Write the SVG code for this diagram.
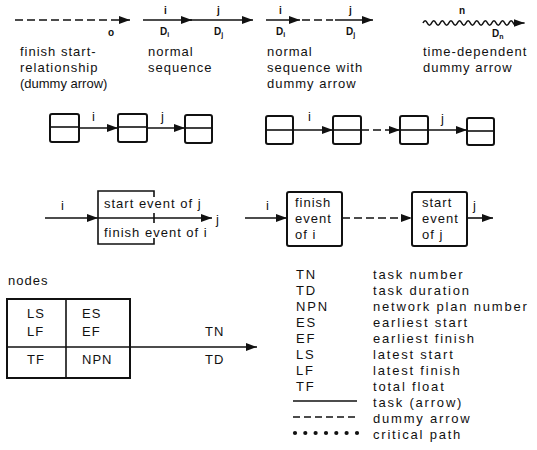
<svg xmlns="http://www.w3.org/2000/svg" width="537" height="450" viewBox="0 0 537 450">
<defs>
<style>
text{font-family:"Liberation Sans",Arial,sans-serif;fill:#111}
.t{font-size:13px;letter-spacing:1px}
.lg{font-size:13px;letter-spacing:1.8px}
.s{font-size:10px;font-weight:bold}
.sub{font-size:7px;font-weight:bold}
.ln{stroke:#111;stroke-width:1.6;fill:none}
.dash{stroke:#111;stroke-width:1.6;fill:none;stroke-dasharray:8 4}
.box{stroke:#111;stroke-width:2;fill:#fff}
.dot{fill:#111}
</style>
<marker id="ah" viewBox="0 0 11 8" refX="11" refY="4" markerWidth="11" markerHeight="8" markerUnits="userSpaceOnUse" orient="auto">
<path d="M0,0 L11,4 L0,8 Z" fill="#111"/>
</marker>
</defs>
<rect width="537" height="450" fill="#fff"/>

<g id="connectors">
<line class="dash" x1="15" y1="20" x2="130" y2="20" marker-end="url(#ah)"/>
<line class="ln" x1="143" y1="20" x2="192" y2="20" marker-end="url(#ah)"/>
<line class="ln" x1="190" y1="20" x2="253" y2="20" marker-end="url(#ah)"/>
<line class="ln" x1="266" y1="20" x2="300" y2="20" marker-end="url(#ah)"/>
<line class="dash" x1="302" y1="20" x2="333" y2="20"/>
<line class="ln" x1="335" y1="20" x2="373" y2="20" marker-end="url(#ah)"/>
<path class="ln" d="M423,23 q2.15,-4.5 4.3,0 t4.3,0 t4.3,0 t4.3,0 t4.3,0 t4.3,0 t4.3,0 t4.3,0 t4.3,0 t4.3,0 t4.3,0 t4.3,0 t4.3,0 t4.3,0 t4.3,0 t4.3,0 t4.3,0 t4.3,0 t4.3,0 t4.3,0 t4.3,0 t4.3,0 l7,0" marker-end="url(#ah)"/>

<line class="ln" x1="79" y1="128" x2="118" y2="128" marker-end="url(#ah)"/>
<line class="ln" x1="147" y1="128" x2="185" y2="128" marker-end="url(#ah)"/>
<line class="ln" x1="293" y1="130" x2="333" y2="130" marker-end="url(#ah)"/>
<line class="dash" x1="361" y1="130" x2="400" y2="130" marker-end="url(#ah)"/>
<line class="ln" x1="428" y1="130" x2="467" y2="130" marker-end="url(#ah)"/>

<line class="ln" x1="45" y1="218" x2="98" y2="218" marker-end="url(#ah)"/>
<line class="ln" x1="98" y1="218" x2="212" y2="218" marker-end="url(#ah)"/>
<line class="ln" x1="245" y1="218" x2="287" y2="218" marker-end="url(#ah)"/>
<line class="dash" x1="342" y1="218" x2="412" y2="218" marker-end="url(#ah)"/>
<line class="ln" x1="467" y1="218" x2="493" y2="218" marker-end="url(#ah)"/>

<line class="ln" x1="130" y1="347" x2="257" y2="347" stroke-width="2" marker-end="url(#ah)"/>
</g>

<g id="top-labels">
<text class="s" x="108" y="36">o</text>
<text class="s" x="164" y="14">i</text>
<text class="s" x="217" y="14">j</text>
<text class="s" x="160" y="35">D<tspan class="sub" dy="2">i</tspan></text>
<text class="s" x="214" y="35">D<tspan class="sub" dy="2">j</tspan></text>
<text class="s" x="279" y="14">i</text>
<text class="s" x="349" y="14">j</text>
<text class="s" x="276" y="35">D<tspan class="sub" dy="2">i</tspan></text>
<text class="s" x="346" y="35">D<tspan class="sub" dy="2">j</tspan></text>
<text class="s" x="459" y="14">n</text>
<text class="s" x="492" y="37">D<tspan class="sub" dy="2">n</tspan></text>
<text class="t" x="20" y="56">finish start-</text>
<text class="t" x="20" y="72">relationship</text>
<text class="t" x="20" y="88" style="letter-spacing:0">(dummy arrow)</text>
<text class="t" x="148" y="56">normal</text>
<text class="t" x="148" y="72">sequence</text>
<text class="t" x="267" y="56">normal</text>
<text class="t" x="267" y="72">sequence with</text>
<text class="t" x="267" y="88">dummy arrow</text>
<text class="t" x="423" y="56">time-dependent</text>
<text class="t" x="423" y="72">dummy arrow</text>
</g>

<g id="seq-left">
<rect class="box" x="50" y="114" width="29" height="28" rx="2"/><line class="ln" x1="50" y1="127" x2="79" y2="127" stroke-width="1.5"/>
<rect class="box" x="118" y="114" width="29" height="28" rx="2"/><line class="ln" x1="118" y1="127" x2="147" y2="127" stroke-width="1.5"/>
<rect class="box" x="185" y="115" width="27" height="28" rx="2"/><line class="ln" x1="185" y1="128" x2="212" y2="128" stroke-width="1.5"/>
<text class="t" x="92" y="121" font-size="10">i</text>
<text class="t" x="161" y="121" font-size="10">j</text>
</g>

<g id="seq-right">
<rect class="box" x="266" y="116" width="27" height="28" rx="2"/><line class="ln" x1="266" y1="130" x2="293" y2="130" stroke-width="1.5"/>
<rect class="box" x="333" y="116" width="28" height="28" rx="2"/><line class="ln" x1="333" y1="130" x2="361" y2="130" stroke-width="1.5"/>
<rect class="box" x="400" y="116" width="28" height="28" rx="2"/><line class="ln" x1="400" y1="130" x2="428" y2="130" stroke-width="1.5"/>
<rect class="box" x="467" y="118" width="27" height="27" rx="2"/><line class="ln" x1="467" y1="131" x2="494" y2="131" stroke-width="1.5"/>
<text class="t" x="308" y="121" font-size="10">i</text>
<text class="t" x="441" y="123" font-size="10">j</text>
</g>

<g id="event-shared">
<path class="ln" stroke-width="2" d="M154,197 V191 H98 V244 H154 V238"/>
<line class="ln" x1="154" y1="213" x2="154" y2="223" stroke-width="2"/>
<text class="t" x="61" y="210">i</text>
<text class="t" x="104" y="208">start event of j</text>
<text class="t" x="104" y="237">finish event of i</text>
<text class="t" x="216" y="224">j</text>
</g>

<g id="event-finish">
<rect class="box" x="287" y="192" width="55" height="54" rx="2"/>
<text class="t" x="266" y="210">i</text>
<text class="t" x="295" y="207">finish</text>
<text class="t" x="295" y="223">event</text>
<text class="t" x="295" y="239">of i</text>
</g>

<g id="event-start">
<rect class="box" x="412" y="192" width="55" height="54" rx="2"/>
<text class="t" x="422" y="207">start</text>
<text class="t" x="422" y="223">event</text>
<text class="t" x="422" y="239">of j</text>
<text class="t" x="473" y="210">j</text>
</g>

<g id="node-key">
<text class="t" x="8" y="285">nodes</text>
<rect class="box" x="7" y="299" width="123" height="79" fill="none"/>
<line class="ln" x1="66" y1="299" x2="66" y2="378" stroke-width="2"/>
<line class="ln" x1="7" y1="347" x2="130" y2="347" stroke-width="2"/>
<text class="t" x="27" y="318">LS</text>
<text class="t" x="27" y="336">LF</text>
<text class="t" x="82" y="318">ES</text>
<text class="t" x="82" y="336">EF</text>
<text class="t" x="27" y="364">TF</text>
<text class="t" x="82" y="364">NPN</text>
<text class="t" x="205" y="336">TN</text>
<text class="t" x="205" y="364">TD</text>
</g>

<g id="legend">
<text class="lg" x="296" y="279">TN</text><text class="lg" x="373" y="279">task number</text>
<text class="lg" x="296" y="295">TD</text><text class="lg" x="373" y="295">task duration</text>
<text class="lg" x="296" y="311">NPN</text><text class="lg" x="373" y="311">network plan number</text>
<text class="lg" x="296" y="327">ES</text><text class="lg" x="373" y="327">earliest start</text>
<text class="lg" x="296" y="343">EF</text><text class="lg" x="373" y="343">earliest finish</text>
<text class="lg" x="296" y="359">LS</text><text class="lg" x="373" y="359">latest start</text>
<text class="lg" x="296" y="375">LF</text><text class="lg" x="373" y="375">latest finish</text>
<text class="lg" x="296" y="391">TF</text><text class="lg" x="373" y="391">total float</text>
<line class="ln" x1="293" y1="401" x2="357" y2="401" stroke-width="1.4"/>
<text class="lg" x="373" y="407">task (arrow)</text>
<line class="ln" x1="293" y1="417" x2="357" y2="417" stroke-width="1.4" stroke-dasharray="7 4"/>
<text class="lg" x="373" y="423">dummy arrow</text>
<g class="dot">
<circle cx="295" cy="433" r="2.1"/><circle cx="305.3" cy="433" r="2.1"/><circle cx="315.6" cy="433" r="2.1"/><circle cx="326" cy="433" r="2.1"/><circle cx="336.3" cy="433" r="2.1"/><circle cx="346.6" cy="433" r="2.1"/><circle cx="357" cy="433" r="2.1"/>
</g>
<text class="lg" x="373" y="439">critical path</text>
</g>
</svg>
